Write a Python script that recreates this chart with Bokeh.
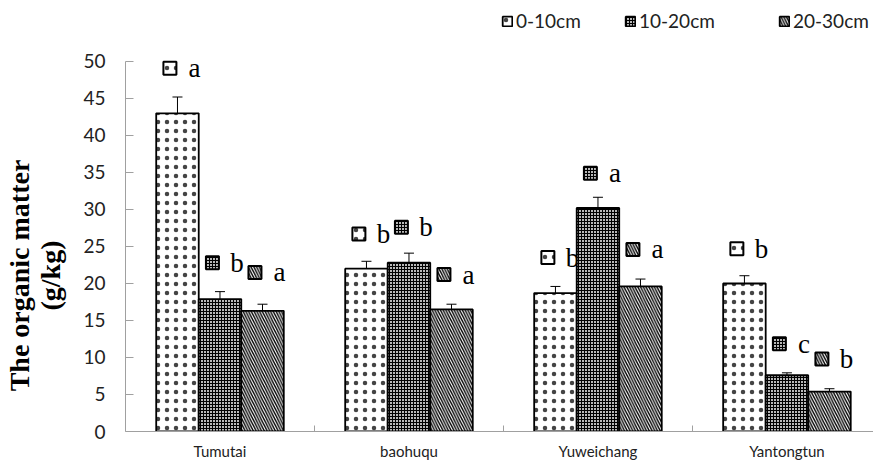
from bokeh.plotting import figure
from bokeh.models import (ColumnDataSource, Range1d, FixedTicker,
                          Whisker, TeeHead, Legend, LegendItem)
from bokeh.core.properties import value
from bokeh.embed import file_html
from bokeh.resources import INLINE

categories = ["Tumutai", "baohuqu", "Yuweichang", "Yantongtun"]
depths = ["0-10cm", "10-20cm", "20-30cm"]

om_0_10 = [43.0, 22.0, 18.7, 20.0]
om_10_20 = [17.9, 22.8, 30.2, 7.6]
om_20_30 = [16.3, 16.5, 19.6, 5.4]

err_0_10 = [2.2, 1.0, 0.9, 1.05]
err_10_20 = [1.0, 1.3, 1.45, 0.33]
err_20_30 = [0.9, 0.7, 1.0, 0.38]

letters_0_10 = ["a", "b", "b", "b"]
letters_10_20 = ["b", "b", "a", "c"]
letters_20_30 = ["a", "a", "a", "b"]

label_y_0_10 = [49.1, 26.7, 23.5, 24.7]
label_y_10_20 = [22.8, 27.6, 34.9, 11.85]
label_y_20_30 = [21.5, 21.2, 24.6, 9.8]

y_ticks = [0, 5, 10, 15, 20, 25, 30, 35, 40, 45, 50]
y_axis_max = 50

values = [om_0_10, om_10_20, om_20_30]
errors = [err_0_10, err_10_20, err_20_30]
letters = [letters_0_10, letters_10_20, letters_20_30]
label_ys = [label_y_0_10, label_y_10_20, label_y_20_30]

bar_w = 0.225
offsets = [-bar_w, 0.0, bar_w]
fills = ["white", "#b8b8b8", "white"]
hatch = [
    dict(hatch_pattern="dot", hatch_scale=9, hatch_weight=0.2, hatch_color="#444444"),
    dict(hatch_pattern="cross", hatch_scale=3, hatch_weight=1, hatch_color="black"),
    dict(hatch_pattern="left_diagonal_line", hatch_scale=5.5, hatch_weight=1.4, hatch_color="black"),
]

# frame spans the full height above the x axis; the y axis itself stops at 50
p = figure(width=873, height=472, output_backend="svg", toolbar_location=None,
           x_range=Range1d(0, 3.958), y_range=Range1d(0, 58.24),
           min_border_left=125, min_border_right=0, min_border_top=0, min_border_bottom=41)
p.outline_line_color = None
p.xgrid.visible = False
p.ygrid.visible = False
p.background_fill_color = "white"

centers = [i + 0.5 for i in range(len(categories))]

sources = []
for k in range(3):
    xs = [c + offsets[k] for c in centers]
    src = ColumnDataSource(dict(
        x=xs, top=values[k],
        upper=[v + e for v, e in zip(values[k], errors[k])],
        lower=[v - e for v, e in zip(values[k], errors[k])],
        bx=[x - 0.04 for x in xs], tx=[x + 0.09 for x in xs],
        ly=label_ys[k], letter=letters[k]))
    p.text(x="tx", y="ly", text="letter", source=src, text_font=value("Liberation Serif"),
           text_font_size="27px", text_align="center", text_baseline="middle", text_color="black")
    p.scatter(x="bx", y="ly", source=src, marker="square", size=13, line_width=2,
              line_color="black", fill_color=fills[k], **hatch[k])
    sources.append(src)

renders = []
for k, src in enumerate(sources):
    r = p.vbar(x="x", top="top", bottom=0, width=bar_w, source=src, fill_color=fills[k],
               line_color="black", line_width=1.8, **hatch[k])
    renders.append(r)

for src in sources:
    w = Whisker(source=src, base="x", upper="upper", lower="lower", line_color="black",
                line_width=1,
                upper_head=TeeHead(size=10, line_color="black", line_width=1),
                lower_head=TeeHead(size=10, line_color="black", line_width=1))
    p.add_layout(w)

legend_x = [376, 499, 653]
for k in range(3):
    lg = Legend(items=[LegendItem(label=depths[k], renderers=[renders[k]])],
                location=(legend_x[k], 399), orientation="horizontal",
                glyph_width=12, glyph_height=12, label_standoff=3, padding=0, margin=0,
                spacing=0, border_line_alpha=0, background_fill_alpha=0,
                label_text_font="Lato", label_text_font_size="19px", label_text_color="#222222",
                label_height=20)
    p.add_layout(lg, "center")

# x axis
xax = p.xaxis[0]
xax.ticker = FixedTicker(ticks=centers, minor_ticks=[1, 2, 3])
xax.major_label_overrides = {c: name for c, name in zip(centers, categories)}
xax.major_tick_in = 0
xax.major_tick_out = 0
xax.minor_tick_in = 6
xax.minor_tick_out = 0
xax.minor_tick_line_color = "#a0a0a0"
xax.axis_line_color = "#a0a0a0"
xax.major_label_text_font = "Lato"
xax.major_label_text_font_size = "15px"
xax.major_label_text_color = "#222222"
xax.major_label_standoff = 10

# y axis
pad = "\u00a0" * 17
yax = p.yaxis[0]
yax.bounds = (0, y_axis_max)
yax.ticker = FixedTicker(ticks=y_ticks)
yax.major_tick_in = 8
yax.major_tick_out = 0
yax.minor_tick_line_color = None
yax.major_tick_line_color = "#a0a0a0"
yax.axis_line_color = "#a0a0a0"
yax.major_label_text_font = "Lato"
yax.major_label_text_font_size = "19px"
yax.major_label_text_color = "#222222"
yax.major_label_standoff = 20
yax.axis_label = "The organic matter" + pad + "\n(g/kg)" + pad
yax.axis_label_text_font = "Liberation Serif"
yax.axis_label_text_font_style = "bold"
yax.axis_label_text_font_size = "28px"
yax.axis_label_text_color = "black"
yax.axis_label_text_line_height = 1.0
yax.axis_label_standoff = 14

open("out.html", "w").write(file_html(p, INLINE))
